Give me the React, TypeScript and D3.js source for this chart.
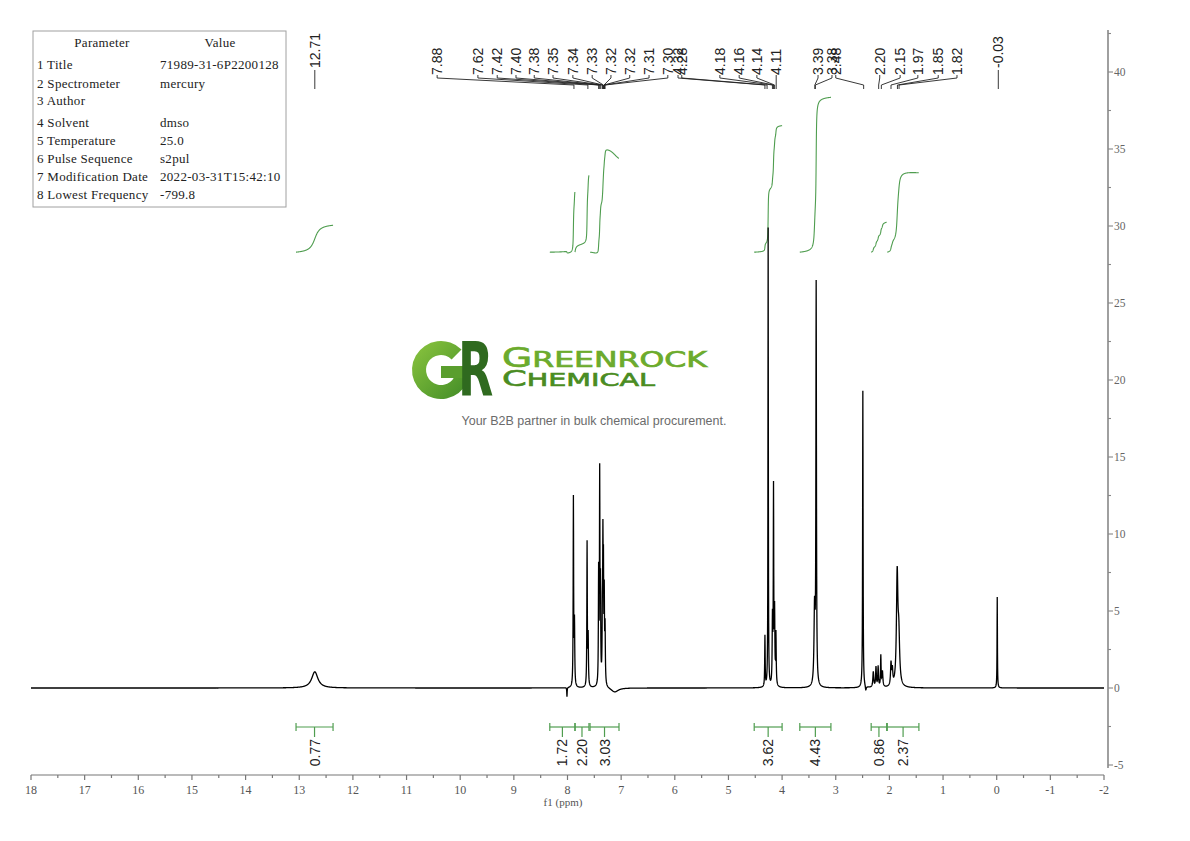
import React from 'react';
import * as d3 from 'd3';

// ---------- data ----------
const paramNames = ['1 Title', '2 Spectrometer', '3 Author', '4 Solvent', '5 Temperature', '6 Pulse Sequence', '7 Modification Date', '8 Lowest Frequency'];
const paramValues = ['71989-31-6P2200128', 'mercury', '', 'dmso', '25.0', 's2pul', '2022-03-31T15:42:10', '-799.8'];

// spectrum peaks: position (ppm), height (intensity), half width (ppm)
const peakPpm = [12.71, 8.01, 7.89, 7.87, 7.635, 7.615, 7.42, 7.40, 7.385, 7.35, 7.34, 7.33, 7.315, 7.30, 7.12, 4.32, 4.26, 4.18, 4.16, 4.14, 4.115, 3.395, 3.365, 2.495, 2.44, 2.30, 2.25, 2.21, 2.16, 2.13, 1.97, 1.945, 1.855, 1.825, -0.01];
const peakHeight = [1.05, -0.6, 12.2, 4.0, 9.3, 3.2, 7.2, 13.4, 6.0, 3.8, 8.2, 6.6, 5.4, 3.6, -0.28, 3.3, 29.8, 4.2, 12.6, 4.6, 3.3, 5.0, 25.8, 19.3, -0.3, 1.0, 1.3, 1.3, 2.0, 1.0, 1.45, 1.0, 7.1, 3.0, 5.9];
const peakWidth = [0.07, 0.004, 0.005, 0.006, 0.005, 0.006, 0.005, 0.005, 0.005, 0.006, 0.005, 0.005, 0.005, 0.006, 0.08, 0.005, 0.004, 0.006, 0.005, 0.006, 0.006, 0.012, 0.006, 0.005, 0.01, 0.01, 0.008, 0.008, 0.006, 0.01, 0.01, 0.01, 0.016, 0.018, 0.004];

// integrals
const integralFrom = [13.06, 8.33, 7.86, 7.58, 4.52, 3.67, 2.34, 2.04];
const integralTo = [12.37, 7.86, 7.60, 7.04, 4.00, 3.09, 2.05, 1.45];
const integralValues = [0.77, 1.72, 2.20, 3.03, 3.62, 4.43, 0.86, 2.37];
const integralDrift = [0, 0, 0, -0.35, 0, 0, 0, -0.1];

// peak labels (grouped), with the ppm where each label text sits
const peakLabels = ['7.88', '7.62', '7.42', '7.40', '7.38', '7.35', '7.34', '7.33', '7.32', '7.32', '7.31', '7.30', '4.32', '4.28', '4.18', '4.16', '4.14', '4.11', '3.39', '3.38', '2.48', '2.20', '2.15', '1.97', '1.85', '1.82'];
const peakLabelAt = [10.43, 9.67, 9.31, 8.96, 8.62, 8.27, 7.90, 7.54, 7.19, 6.84, 6.48, 6.13, 5.94, 5.87, 5.16, 4.80, 4.47, 4.11, 3.33, 3.07, 3.00, 2.18, 1.80, 1.47, 1.09, 0.74];
const singleLabels = ['12.71', '-0.03'];

const xTicks = d3.range(18, -2.5, -1);
const yTicks = d3.range(-5, 45, 5);

// ---------- layout ----------
const W = 1190, H = 841;
const x = d3.scaleLinear().domain([18, -2]).range([31, 1104]);
const y = d3.scaleLinear().domain([0, 40]).range([688, 72]);
const GREEN = '#4f9d4f';
const SERIF = '"Liberation Serif", "DejaVu Serif", serif';
const SANS = '"Liberation Sans", Arial, sans-serif';

function intensity(p: number): number {
  let s = 0;
  for (let i = 0; i < peakPpm.length; i++) {
    const d = p - peakPpm[i];
    const g = peakWidth[i];
    s += peakHeight[i] * (g * g) / (d * d + g * g);
  }
  return s;
}

const samplePpm: number[] = d3.range(0, 8001).map(i => 18 - i * 0.0025).concat(peakPpm).sort((a, b) => b - a);
const spectrum: [number, number][] = samplePpm.map(p => [p, intensity(p)]);

function integralCurve(k: number): [number, number][] {
  const a = integralFrom[k], b = integralTo[k];
  const pts = spectrum.filter(d => d[0] <= a && d[0] >= b);
  const cum: number[] = [0];
  for (let i = 1; i < pts.length; i++) {
    cum.push(cum[i - 1] + (pts[i - 1][1] + pts[i][1]) / 2 * (pts[i - 1][0] - pts[i][0]));
  }
  const total = cum[cum.length - 1] || 1;
  const base = 28.3, scale = 2.27;
  return pts.map((d, i) => {
    const t = (a - d[0]) / (a - b);
    return [d[0], base + integralValues[k] * scale * (cum[i] / total) + integralDrift[k] * scale * t];
  });
}

const line = d3.line<[number, number]>().x(d => x(d[0])).y(d => y(d[1]));

export default function App() {
  const gArc = d3.arc()({ innerRadius: 15, outerRadius: 29, startAngle: Math.PI / 2, endAngle: 2 * Math.PI + Math.PI / 4 } as any) as string;
  const minorX = d3.range(18, -2.01, -0.5);
  const minorY = d3.range(-5, 43, 2.5);
  return (
    <svg width={W} height={H} style={{ position: 'absolute', left: 0, top: 0, background: '#fff' }}>
      <defs>
        <linearGradient id="gGrad" x1="0" y1="0" x2="1" y2="1">
          <stop offset="0%" stopColor="#8cc63f" />
          <stop offset="100%" stopColor="#3f8a26" />
        </linearGradient>
      </defs>

      {/* parameter table */}
      <rect x={33} y={31} width={253} height={176} fill="none" stroke="#a0a0a0" strokeWidth={1} />
      <g fontFamily={SERIF} fontSize={13} fill="#222" letterSpacing={0.3}>
        <text x={102} y={47} textAnchor="middle">Parameter</text>
        <text x={220} y={47} textAnchor="middle">Value</text>
        {paramNames.map((n, i) => {
          const yy = [69, 88, 105, 127, 145, 163, 181, 199][i];
          return (
            <g key={n}>
              <text x={37} y={yy}>{n}</text>
              <text x={160} y={yy}>{paramValues[i]}</text>
            </g>
          );
        })}
      </g>

      {/* logo */}
      <g>
        <path d={gArc} transform="translate(441,370)" fill="url(#gGrad)" />
        <rect x={441} y={366} width={29} height={12} fill="#5a9e2e" />
        <text transform="translate(458,396) scale(0.62,1)" fontFamily="DejaVu Sans" fontWeight="bold" fontSize={74} fill="#2f6a1f">R</text>
        <text x={502} y={367} fontFamily="DejaVu Sans" fill="#6cab2d" stroke="#6cab2d" strokeWidth={0.7} textLength={205} lengthAdjust="spacingAndGlyphs">
          <tspan fontSize={26}>G</tspan><tspan fontSize={21}>REENROCK</tspan>
        </text>
        <text x={502} y={386} fontFamily="DejaVu Sans" fill="#4a8c22" stroke="#4a8c22" strokeWidth={0.6} textLength={153} lengthAdjust="spacingAndGlyphs">
          <tspan fontSize={21}>C</tspan><tspan fontSize={17}>HEMICAL</tspan>
        </text>
        <text x={594} y={425} textAnchor="middle" fontFamily={SANS} fontSize={12.5} fill="#6b6b6b">Your B2B partner in bulk chemical procurement.</text>
      </g>

      {/* integral curves */}
      {integralValues.map((v, k) => (
        <path key={'ic' + k} d={line(integralCurve(k)) || ''} fill="none" stroke={GREEN} strokeWidth={1.1} />
      ))}

      {/* spectrum */}
      <path d={line(spectrum) || ''} fill="none" stroke="#000" strokeWidth={1.3} />

      {/* integral brackets */}
      {integralValues.map((v, k) => {
        const x1 = x(integralFrom[k]), x2 = x(integralTo[k]);
        const cx = (x1 + x2) / 2;
        return (
          <g key={'ib' + k} stroke={GREEN} strokeWidth={1.2}>
            <line x1={x1} x2={x2} y1={727} y2={727} />
            <line x1={x1} x2={x1} y1={723} y2={731} />
            <line x1={x2} x2={x2} y1={723} y2={731} />
            <line x1={cx} x2={cx} y1={727} y2={737} />
            <text transform={`translate(${cx + 5},739) rotate(-90)`} textAnchor="end" fontFamily={SANS} fontSize={14} fill="#222" stroke="none">{v.toFixed(2)}</text>
          </g>
        );
      })}

      {/* peak labels */}
      <g stroke="#222" strokeWidth={0.9} fill="none">
        {peakLabels.map((t, i) => {
          const lx = x(peakLabelAt[i]);
          const px = x(parseFloat(t));
          return (
            <g key={'pl' + i}>
              <polyline points={`${lx},75 ${lx},78 ${px},85 ${px},89`} />
              <text transform={`translate(${lx + 5},75) rotate(-90)`} fontFamily={SANS} fontSize={14} fill="#222" stroke="none">{t}</text>
            </g>
          );
        })}
        {singleLabels.map((t, i) => {
          const px = x(parseFloat(t));
          return (
            <g key={'sl' + i}>
              <line x1={px} x2={px} y1={70} y2={89} />
              <text transform={`translate(${px + 5},68) rotate(-90)`} fontFamily={SANS} fontSize={14} fill="#222" stroke="none">{t}</text>
            </g>
          );
        })}
      </g>

      {/* bottom axis */}
      <g stroke="#777" strokeWidth={1.2}>
        <line x1={x(18)} x2={x(-2)} y1={775} y2={775} />
        {minorX.map(v => (
          <line key={'mx' + v} x1={x(v)} x2={x(v)} y1={775} y2={Math.abs(v - Math.round(v)) < 1e-6 ? 780 : 778} />
        ))}
      </g>
      <g fontFamily={SERIF} fontSize={12} fill="#555" textAnchor="middle">
        {xTicks.map(v => (
          <text key={'xt' + v} x={x(v)} y={794}>{v}</text>
        ))}
        <text x={563} y={806} fontSize={11}>f1 (ppm)</text>
      </g>

      {/* right axis */}
      <g stroke="#888" strokeWidth={1.6}>
        <line x1={1108} x2={1108} y1={30} y2={768} />
      </g>
      <g stroke="#888" strokeWidth={1.1}>
        {minorY.map(v => (
          <line key={'my' + v} x1={1108} x2={v % 5 === 0 ? 1113 : 1111} y1={y(v)} y2={y(v)} />
        ))}
      </g>
      <g fontFamily={SERIF} fontSize={11.5} fill="#666">
        {yTicks.map(v => (
          <text key={'yt' + v} x={1114} y={y(v) + 4}>{v}</text>
        ))}
      </g>
    </svg>
  );
}
